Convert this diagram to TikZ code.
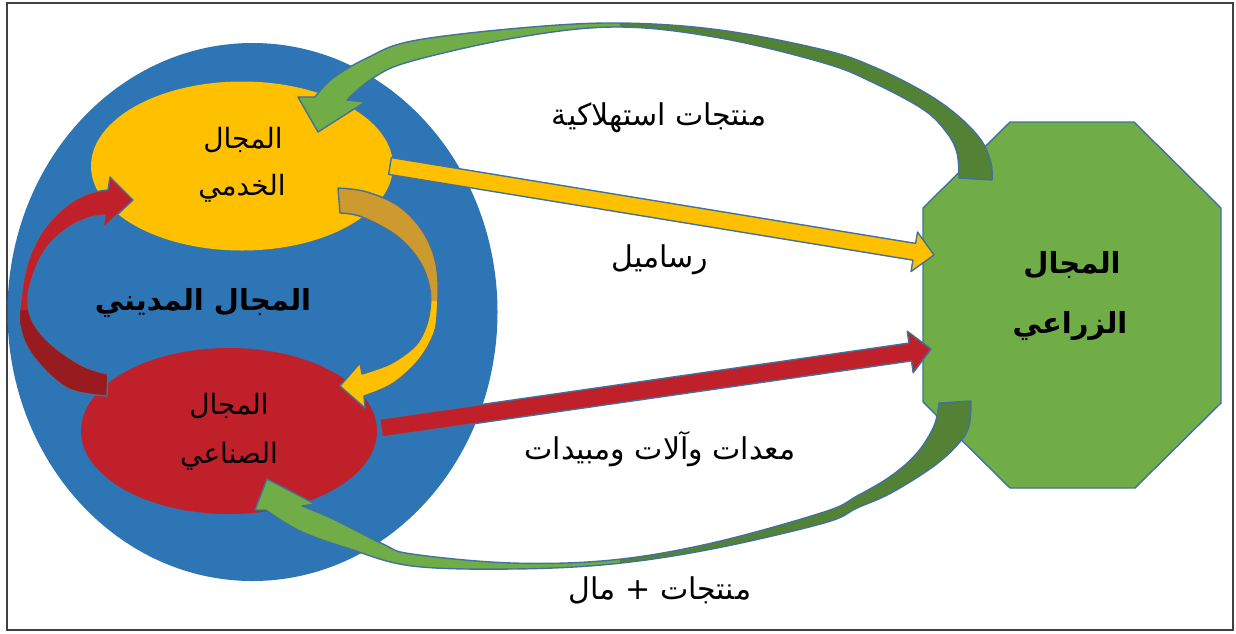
\documentclass[tikz,border=0pt]{standalone}
\usepackage{fontspec}
\newfontfamily\arabicfont[Script=Arabic]{DejaVu Sans}
\TeXXeTstate=1
\usetikzlibrary{calc,shapes.geometric}
\definecolor{cityblue}{HTML}{2E75B6}
\definecolor{servyel}{HTML}{FFC000}
\definecolor{darkgold}{HTML}{CC9A2E}
\definecolor{indred}{HTML}{C0202A}
\definecolor{darkred}{HTML}{981B1F}
\definecolor{agrgreen}{HTML}{70AD47}
\definecolor{darkgreen}{HTML}{548235}
\definecolor{edgeblue}{HTML}{41719C}
\definecolor{framegray}{HTML}{404040}
\begin{document}
\begin{tikzpicture}[x=1pt,y=-1pt,
  region/.style={ellipse, inner sep=0pt, draw=none},
  lbl/.style={font=\arabicfont\fontsize{30}{34}\selectfont, anchor=base, inner sep=0pt},
  intxt/.style={font=\arabicfont\fontsize{28}{32}\selectfont, anchor=base, inner sep=0pt},
  ttl/.style={font=\arabicfont\bfseries\fontsize{29}{34}\selectfont, anchor=base, inner sep=0pt},
  outl/.style={draw=edgeblue, line width=1.4pt, line join=round},
]
\useasboundingbox (0,0) rectangle (1236,633);
\draw[framegray, line width=2pt] (7,3) rectangle (1233,630);

% regions
\node[region, fill=cityblue, minimum width=490pt, minimum height=538pt] (city) at (252.5,312) {};
\node[region, fill=servyel, minimum width=302pt, minimum height=169pt] (serv) at (242,166) {};
\node[region, fill=indred, minimum width=296pt, minimum height=166pt] (ind) at (229,431) {};
\coordinate (agr) at (1072,305);
\filldraw[fill=agrgreen, outl] (1010,122) -- (1134,122) -- (1221,208) -- (1221,403) -- (1135,488) -- (1010,488) -- (923,402) -- (923,208) -- cycle;

% curved arrow paths
\def\topgreen{plot[smooth, tension=0.6] coordinates {(992,180) (991,163) (981,140) (957,115) (924,92) (874,67) (824,50) (720,30) (619,23) (520,28) (412,41) (367,58) (333,78) (315,97)} -- (298,97) -- (318,132) -- (365,102) -- (347,100) -- plot[smooth, tension=0.6] coordinates {(347,100) (373,78) (412,61) (520,37) (619,27) (720,38) (824,63) (874,83) (924,110) (947,133) (957,153) (959,178)} -- cycle}
\def\botgreen{plot[smooth, tension=0.6] coordinates {(971,401) (969,426) (959,443) (934,466) (891,493) (857,508) (824,523) (712,549) (612,564) (512,569) (412,566) (350,549) (300,531) (266,510)} -- (255,510) -- (267,479) -- (315,504) -- (302,506) -- plot[smooth, tension=0.6] coordinates {(302,506) (333,519) (383,544) (412,554) (512,563) (612,560) (712,543) (824,512) (857,496) (891,476) (917,453) (934,426) (939,403)} -- cycle}
\def\redcurve{plot[smooth, tension=0.6] coordinates {(107,396) (67,388) (33,356) (20,326) (21,300) (27,265) (42,232) (65,207) (87,194) (108,190)} -- (110,177) -- (133,200) -- (103,228) -- (105,215) -- plot[smooth, tension=0.6] coordinates {(105,215) (88,218) (68,228) (48,246) (35,270) (28,298) (33,322) (52,345) (83,366) (108,374)} -- cycle}
\def\yelcurve{plot[smooth, tension=0.6] coordinates {(338,188) (367,192) (400,207) (425,235) (437,270) (437,316) (432,338) (417,362) (392,384) (364,396)} -- (365,408) -- (340,386) -- (360,363) -- (362,374) -- plot[smooth, tension=0.6] coordinates {(362,374) (390,364) (412,349) (422,336) (429,316) (430,290) (420,262) (397,236) (362,217) (340,213)} -- cycle}

% yellow curved arrow (services -> industry)
\fill[servyel] \yelcurve;
\begin{scope}\clip (300,150) rectangle (460,300); \fill[darkgold] \yelcurve; \end{scope}
\draw[outl] \yelcurve;
% red curved arrow (industry -> services)
\fill[indred] \redcurve;
\begin{scope}\clip (0,310) rectangle (130,420); \fill[darkred] \redcurve; \end{scope}
\draw[outl] \redcurve;
% top green arrow (agriculture -> services)
\fill[agrgreen] \topgreen;
\begin{scope}\clip (620,0) rectangle (1236,300); \fill[darkgreen] \topgreen; \end{scope}
\draw[outl] \topgreen;
% bottom green arrow (agriculture -> industry)
\fill[agrgreen] \botgreen;
\begin{scope}\clip (620,380) rectangle (1236,633); \fill[darkgreen] \botgreen; \end{scope}
\draw[outl] \botgreen;

% straight arrows
\coordinate (ys) at (390,166);
\coordinate (yt) at (934,255);
\coordinate (yb) at ($(yt)!20pt!(ys)$);
\filldraw[fill=servyel, outl] ($(ys)!8.5pt!90:(yt)$) -- ($(yb)!8.5pt!-90:(ys)$) -- ($(yb)!20pt!-90:(ys)$) -- (yt) -- ($(yb)!20pt!90:(ys)$) -- ($(yb)!8.5pt!90:(ys)$) -- ($(ys)!8.5pt!-90:(yt)$) -- cycle;
\coordinate (rs) at (381,428);
\coordinate (rt) at (931,349);
\coordinate (rb) at ($(rt)!21pt!(rs)$);
\filldraw[fill=indred, outl] ($(rs)!9pt!90:(rt)$) -- ($(rb)!9pt!-90:(rs)$) -- ($(rb)!21pt!-90:(rs)$) -- (rt) -- ($(rb)!21pt!90:(rs)$) -- ($(rb)!9pt!90:(rs)$) -- ($(rs)!9pt!-90:(rt)$) -- cycle;

% texts
\node[intxt] (s1) at (243,148) {\beginR المجال\endR};
\node[intxt] (s2) at (242,195) {\beginR الخدمي\endR};
\node[intxt] (i1) at (229,414) {\beginR المجال\endR};
\node[intxt] (i2) at (229,463) {\beginR الصناعي\endR};
\node[ttl] (c1) at (203,310) {\beginR المجال المديني\endR};
\node[ttl] (a1) at (1072,273) {\beginR المجال\endR};
\node[ttl] (a2) at (1070,333) {\beginR الزراعي\endR};
\node[lbl] (l1) at (659,125) {\beginR منتجات استهلاكية\endR};
\node[lbl] (l2) at (660,267) {\beginR رساميل\endR};
\node[lbl] (l3) at (660,459) {\beginR معدات وآلات ومبيدات\endR};
\node[lbl] (l4) at (660,599) {\beginR منتجات + مال\endR};
\end{tikzpicture}
\end{document}
